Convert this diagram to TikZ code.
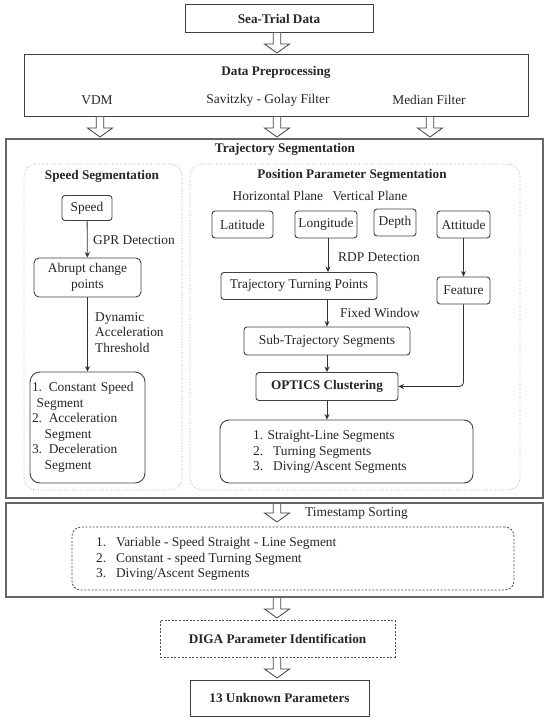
\documentclass[tikz,border=0pt]{standalone}
\usepackage{fontspec}
\setmainfont{Liberation Serif}
\usetikzlibrary{arrows.meta,calc}
\begin{document}
\begin{tikzpicture}[x=1pt,y=-1pt,
  every node/.style={font=\fontsize{13.4}{15.5}\selectfont, inner sep=0pt, text=black!85},
  box/.style={draw=black!75, line width=0.9pt, rounded corners=3pt, align=center},
  sqbox/.style={draw=black!75, line width=1pt, align=center},
  bigbox/.style={draw=black!60, line width=1.8pt},
  dotbox/.style={draw=black!45, line width=0.6pt, dotted, rounded corners=12pt},
  dashbox/.style={draw=black!70, line width=0.8pt, dash pattern=on 2pt off 1.6pt},
  arr/.style={draw=black!80, line width=0.8pt, -{Stealth[length=5.5pt,width=5pt]}},
  lbl/.style={anchor=west},
  bf/.style={font=\fontsize{13.2}{15}\selectfont\bfseries},
  pics/harrow/.style={code={\draw[black!75, line width=0.8pt, fill=white] (-3.8,0) -- (-3.8,#1-9) -- (-12.5,#1-9) -- (0,#1) -- (12.5,#1-9) -- (3.8,#1-9) -- (3.8,0);}}
]
\useasboundingbox[fill=white] (0,0) rectangle (550,722);

% Sea-trial data
\node[sqbox, bf, minimum width=188pt, minimum height=28pt] (sea) at (279,19) {Sea-Trial Data};
\pic at (277,33) {harrow=20};

% Data preprocessing
\node[sqbox, minimum width=503.5pt, minimum height=62pt] (prep) at (276.3,86) {};
\node[bf] (preptitle) at (276,72) {Data Preprocessing};
\node (vdm) at (97,100) {VDM};
\node (sg) at (268,100) {Savitzky - Golay Filter};
\node (med) at (429,100) {Median Filter};
\pic at (100,117) {harrow=20};
\pic at (277,117) {harrow=20};
\pic at (430,117) {harrow=20};

% Trajectory segmentation
\node[bigbox, minimum width=537pt, minimum height=359pt] (traj) at (274.5,318.5) {};
\node[bf] (trajtitle) at (285,149) {Trajectory Segmentation};

% Speed segmentation
\node[dotbox, minimum width=158pt, minimum height=326pt] (speedseg) at (103,327) {};
\node[bf] (speedtitle) at (102,176) {Speed Segmentation};
\node[box, minimum width=50pt, minimum height=25pt] (speed) at (87,208) {Speed};
\node[box, minimum width=107pt, minimum height=39pt, rounded corners=5pt] (abrupt) at (87.5,277.5) {Abrupt change\\points};
\draw[arr] (speed) -- (abrupt);
\node[lbl] (gpr) at (93,240) {GPR Detection};
\node[anchor=north west, align=left] (dyn) at (95,312) {Dynamic\\Acceleration\\Threshold};
\node[box, minimum width=115pt, minimum height=111pt, rounded corners=10pt, align=left, text width=111pt] (list1) at (87.5,427.5) {1. Constant Speed\\\hspace*{0.35em}Segment\\2. Acceleration\\\hspace*{0.95em}Segment\\3. Deceleration\\\hspace*{0.95em}Segment};
\draw[arr] (abrupt) -- (list1);

% Position parameter segmentation
\node[dotbox, minimum width=330pt, minimum height=326pt] (posseg) at (355,327) {};
\node[bf] (postitle) at (352,175) {Position Parameter Segmentation};
\node (planes) at (320,196) {Horizontal Plane\hspace{0.7em}Vertical Plane};
\node[box, minimum width=61pt, minimum height=27pt] (lat) at (242.5,224.5) {Latitude};
\node[box, minimum width=62pt, minimum height=27pt] (lon) at (326,224.5) {Longitude};
\node[box, minimum width=42pt, minimum height=27pt] (depth) at (395,222.5) {Depth};
\node[box, minimum width=53pt, minimum height=27pt] (att) at (463.5,224.5) {Attitude};
\node[box, minimum width=156pt, minimum height=27pt] (ttp) at (299,286) {Trajectory Turning Points};
\node[box, minimum width=53pt, minimum height=27pt] (feat) at (463.5,290.5) {Feature};
\node[box, minimum width=166pt, minimum height=28pt] (sub) at (327,341) {Sub-Trajectory Segments};
\node[box, bf, minimum width=142pt, minimum height=28pt] (optics) at (327,386.5) {OPTICS Clustering};
\node[box, minimum width=253pt, minimum height=63pt, rounded corners=9pt] (list2) at (346.5,451.5) {};
\node[anchor=west, align=left] (list2txt) at (253,452) {1. Straight-Line Segments\\2.\hspace{0.4em} Turning Segments\\3.\hspace{0.4em} Diving/Ascent Segments};
\draw[arr] ([xshift=2pt]lon.south) -- ([xshift=2pt]lon.south |- ttp.north);
\node[lbl] (rdp) at (338,257) {RDP Detection};
\draw[arr] (ttp.south -| sub.north) -- (sub.north);
\node[lbl] (fw) at (340,313) {Fixed Window};
\draw[arr] (sub) -- (optics);
\draw[arr] (optics.south) -- (optics.south |- list2.north);
\draw[arr] (att) -- (feat);
\draw[arr, rounded corners=4pt] (feat.south) |- (optics.east);

% Lower box
\node[bigbox, minimum width=537pt, minimum height=94pt] (lower) at (274.5,550) {};
\pic at (277,504) {harrow=18};
\node[lbl] (ts) at (305,514) {Timestamp Sorting};
\node[dashbox, rounded corners=9pt, minimum width=442pt, minimum height=63pt] (list3) at (293,558.5) {};
\node[anchor=west, align=left] (list3txt) at (96,559) {1.\hspace{0.4em} Variable - Speed Straight - Line Segment\\2.\hspace{0.4em} Constant - speed Turning Segment\\3.\hspace{0.4em} Diving/Ascent Segments};
\pic at (277,598) {harrow=20};

% DIGA
\node[dashbox, bf, minimum width=235pt, minimum height=37pt] (diga) at (277.5,638.5) {DIGA Parameter Identification};
\pic at (277,658) {harrow=20};
\node[sqbox, bf, minimum width=179pt, minimum height=36pt] (unk) at (279.5,698) {13 Unknown Parameters};
\end{tikzpicture}
\end{document}
